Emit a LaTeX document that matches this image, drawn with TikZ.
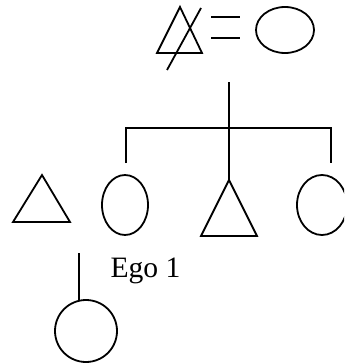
\documentclass[tikz,border=0pt]{standalone}
\usepackage{fontspec}
\setmainfont{Liberation Serif}
\begin{document}
\begin{tikzpicture}[x=0.5pt, y=-0.5pt, line width=0.9pt]

    \useasboundingbox (0,0) rectangle (344,364);
    \clip (0,0) rectangle (344,364);

    % 1. Cặp cha mẹ: người cha đã mất (gạch chéo) = người mẹ
    \draw (180,7) coordinate (F) -- (202,53) -- (157,53) -- cycle;
    \draw (201,8) -- (167,70);
    \draw (211,17) -- (240,17);
    \draw (211,38) -- (240,38);
    \draw (285,30) coordinate (M) ellipse [x radius=29, y radius=23];

    % 2. Đường dòng dõi và thanh anh chị em
    \draw (229,82) coordinate (D) -- (229,180) coordinate (B2);
    \draw (126,163) coordinate (S1) -- (126,128) coordinate (L)
          -- (331,128) coordinate (R) -- (331,163) coordinate (S3);

    % 3. Các con
    \draw (42,175) coordinate (B1) -- (70,222) -- (13,222) -- cycle;
    \draw (125,205) coordinate (E) ellipse [x radius=23, y radius=30];
    \draw (B2) -- (257,236) -- (201,236) -- cycle;
    \draw (322,205) coordinate (G) ellipse [x radius=25, y radius=30];

    % 4. Con của Ego 1
    \draw (79,253) coordinate (T) -- (79,300) coordinate (K);
    \draw (86,331) coordinate (C) circle [radius=31];

    \node[anchor=base west, font=\fontsize{14.8}{16}\selectfont] (ego) at (103,277) {Ego 1};

\end{tikzpicture}
\end{document}
